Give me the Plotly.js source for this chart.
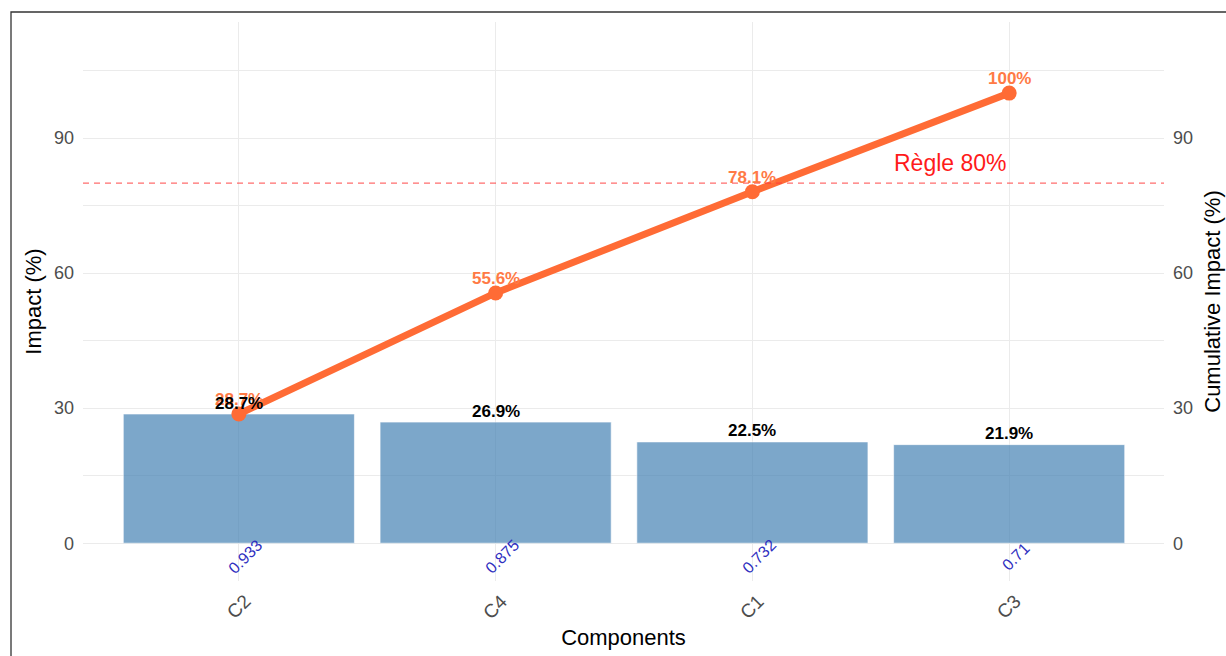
<!DOCTYPE html>
<html>
<head>
<meta charset="utf-8">
<script src="https://cdn.plot.ly/plotly-3.0.1.min.js"></script>
<style>html,body{margin:0;padding:0;background:#fff;}#chart{width:1226px;height:656px;}</style>
</head>
<body>
<div id="chart"></div>
<script>
// ---- data ----
const components = ["C2", "C4", "C1", "C3"];
const impact = [28.7, 26.9, 22.5, 21.9];
const cumulative = [28.7, 55.6, 78.1, 100];
const scores = ["0.933", "0.875", "0.732", "0.71"];
const threshold = 80;
const thresholdLabel = "Règle 80%";
const yTicks = [0, 30, 60, 90];

const FONT = "Liberation Sans, Arial, sans-serif";
const ORANGE = "#FF6B35";

const bars = {
  type: "bar", x: components, y: impact,
  marker: {color: "steelblue", opacity: 0.7, line: {color: "#ffffff", width: 0.6}},
  width: 0.9, hoverinfo: "skip", showlegend: false
};
const line = {
  type: "scatter", mode: "lines+markers", x: components, y: cumulative, yaxis: "y2",
  line: {color: ORANGE, width: 7}, marker: {color: ORANGE, size: 15},
  hoverinfo: "skip", showlegend: false, cliponaxis: false
};

const annotations = [];
// cumulative labels
components.forEach((c, i) => annotations.push({
  x: c, y: cumulative[i], xref: "x", yref: "y", text: cumulative[i] + "%",
  showarrow: false, xanchor: "center", yanchor: "middle", yshift: 14.5,
  font: {family: FONT, size: 17, color: "#FF7A45", weight: "bold"}
}));
// bar labels
components.forEach((c, i) => annotations.push({
  x: c, y: impact[i], xref: "x", yref: "y", text: "<b>" + impact[i] + "%</b>",
  showarrow: false, xanchor: "center", yanchor: "middle", yshift: 11,
  font: {family: FONT, size: 17, color: "#000000"}
}));
// score labels
components.forEach((c, i) => annotations.push({
  x: c, y: -2.9, xref: "x", yref: "y", text: scores[i], textangle: -45,
  showarrow: false, xanchor: "center", yanchor: "middle", xshift: 6.5,
  font: {family: FONT, size: 16, color: "#2f2fbf"}
}));
// category tick labels
components.forEach((c) => annotations.push({
  x: c, y: -0.0465, xref: "x", yref: "paper", text: c, textangle: -45,
  showarrow: false, xanchor: "center", yanchor: "middle",
  font: {family: FONT, size: 19, color: "#4d4d4d"}
}));
annotations.push({
  x: 2.77, y: threshold + 4.4, xref: "x", yref: "y", text: thresholdLabel,
  showarrow: false, xanchor: "center", yanchor: "middle",
  font: {family: FONT, size: 23, color: "#FF1A1A"}
});

const yRange = [-8.4, 115.8];
const layout = {
  width: 1226, height: 656,
  margin: {l: 83, r: 62, t: 22, b: 75},
  paper_bgcolor: "#ffffff", plot_bgcolor: "#ffffff",
  font: {family: FONT},
  bargap: 0.1,
  xaxis: {
    type: "category", categoryorder: "array", categoryarray: components,
    range: [-0.607, 3.603], showticklabels: false, ticks: "",
    showgrid: true, gridcolor: "#ebebeb", gridwidth: 1, zeroline: false, showline: false,
    title: {text: "Components", font: {family: FONT, size: 22, color: "#000"}, standoff: 48}
  },
  yaxis: {
    range: yRange, tickvals: yTicks, ticks: "", ticklabelstandoff: 8,
    tickfont: {family: FONT, size: 18, color: "#4d4d4d"},
    showgrid: true, gridcolor: "#ebebeb", gridwidth: 1, zeroline: false, showline: false,
    minor: {dtick: 15, tick0: 0, showgrid: true, gridcolor: "#ebebeb", gridwidth: 1, ticks: ""},
    title: {text: "Impact (%)", font: {family: FONT, size: 22, color: "#000"}, standoff: 6}
  },
  yaxis2: {
    range: yRange, tickvals: yTicks, overlaying: "y", side: "right", ticks: "", ticklabelstandoff: 8,
    tickfont: {family: FONT, size: 18, color: "#4d4d4d"},
    showgrid: false, zeroline: false, showline: false,
    title: {text: "Cumulative Impact (%)", font: {family: FONT, size: 22, color: "#000"}, standoff: 12}
  },
  shapes: [
    {type: "line", xref: "paper", yref: "y", x0: 0, x1: 1, y0: threshold, y1: threshold,
     line: {color: "rgba(255,60,60,0.75)", width: 1.2, dash: "6px,5px"}, layer: "above"},
    {type: "rect", xref: "paper", yref: "paper", x0: -0.0666, x1: 1.3, y0: -0.3, y1: 1.0179,
     line: {color: "#333333", width: 1.3}, fillcolor: "rgba(0,0,0,0)", layer: "above"}
  ],
  annotations: annotations
};

Plotly.newPlot("chart", [bars, line], layout, {displayModeBar: false, staticPlot: true});
</script>
</body>
</html>
